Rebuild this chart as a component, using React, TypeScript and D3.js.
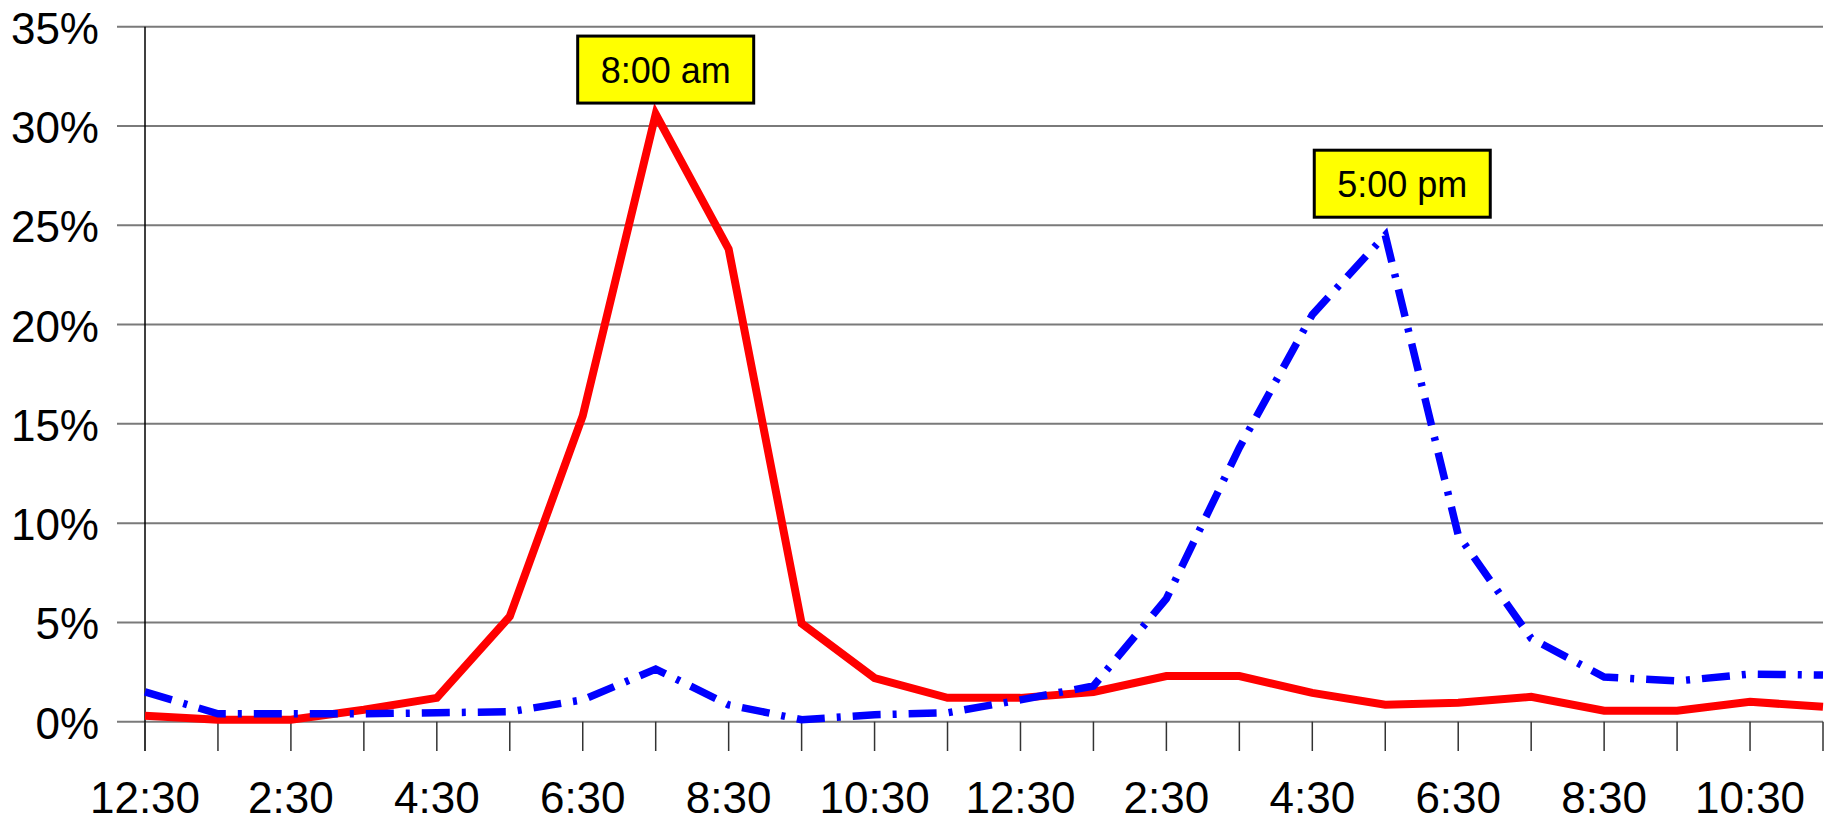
import React from "react";
import * as d3 from "d3";

// ---- Data ----
const categories: string[] = [
  "12:30", "1:30", "2:30", "3:30", "4:30", "5:30", "6:30", "7:30", "8:30", "9:30", "10:30", "11:30",
  "12:30", "1:30", "2:30", "3:30", "4:30", "5:30", "6:30", "7:30", "8:30", "9:30", "10:30", "11:30",
];

const morningSeries: number[] = [
  0.3, 0.1, 0.1, 0.6, 1.2, 5.3, 15.4, 30.6, 23.8, 4.95, 2.2, 1.2,
  1.2, 1.5, 2.3, 2.3, 1.45, 0.85, 0.95, 1.25, 0.55, 0.55, 1.0, 0.75,
];

const eveningSeries: number[] = [
  1.5, 0.4, 0.4, 0.4, 0.45, 0.5, 1.1, 2.65, 0.85, 0.1, 0.35, 0.45,
  1.1, 1.8, 6.2, 13.8, 20.5, 24.5, 9.4, 4.2, 2.25, 2.05, 2.4, 2.35,
];

const yTicks: number[] = [0, 5, 10, 15, 20, 25, 30, 35];

const annotationIndex: number[] = [7, 17];
const annotationLabel: string[] = ["8:00 am", "5:00 pm"];
const annotationSeries: number[][] = [morningSeries, eveningSeries];

// ---- Layout ----
const W = 1836;
const H = 821;
const X0 = 145;
const X1 = 1823;
const Y0 = 721.7;
const Y1 = 26.7;
const FONT = "'Liberation Sans', Arial, Helvetica, sans-serif";
const annotationOffsets = [
  { dx: 10, dy: -11 },
  { dx: 17, dy: -18 },
];

export default function App() {
  const x = d3
    .scalePoint<number>()
    .domain(categories.map((_, i) => i))
    .range([X0, X1]);
  const y = d3.scaleLinear().domain([0, 35]).range([Y0, Y1]);

  const line = d3
    .line<number>()
    .x((_, i) => x(i) as number)
    .y((d) => y(d));

  return (
    <svg
      width={W}
      height={H}
      style={{ position: "absolute", left: 0, top: 0, background: "#fff" }}
      fontFamily={FONT}
    >
      <rect x={0} y={0} width={W} height={H} fill="#fff" />
      {/* gridlines */}
      {yTicks.map((t) => (
        <line
          key={"g" + t}
          x1={117}
          x2={X1}
          y1={y(t)}
          y2={y(t)}
          stroke="#7a7a7a"
          strokeWidth={2}
        />
      ))}
      {/* y labels */}
      {yTicks.map((t) => (
        <text
          key={"yl" + t}
          x={99}
          y={y(t) + 17}
          textAnchor="end"
          fontSize={44}
          fill="#000"
        >
          {t + "%"}
        </text>
      ))}
      {/* y axis */}
      <line x1={X0} x2={X0} y1={Y1} y2={751} stroke="#000" strokeWidth={1.5} />
      {/* x ticks */}
      {categories.map((_, i) => (
        <line
          key={"xt" + i}
          x1={x(i) as number}
          x2={x(i) as number}
          y1={Y0}
          y2={751}
          stroke="#333"
          strokeWidth={1.5}
        />
      ))}
      {/* x labels */}
      {categories.map((c, i) =>
        i % 2 === 0 ? (
          <text
            key={"xl" + i}
            x={x(i) as number}
            y={813}
            textAnchor="middle"
            fontSize={44}
            fill="#000"
          >
            {c}
          </text>
        ) : null
      )}
      {/* series */}
      <path
        d={line(morningSeries) || ""}
        fill="none"
        stroke="#ff0000"
        strokeWidth={8}
        strokeLinejoin="miter"
      />
      <path
        d={line(eveningSeries) || ""}
        fill="none"
        stroke="#0000ff"
        strokeWidth={7.5}
        strokeLinejoin="miter"
        strokeDasharray="28 12 4 12"
      />
      {/* annotations */}
      {annotationIndex.map((idx, k) => {
        const cx = (x(idx) as number) + annotationOffsets[k].dx;
        const bottom = y(annotationSeries[k][idx]) + annotationOffsets[k].dy;
        const bw = 176;
        const bh = 67;
        return (
          <g key={"a" + k}>
            <rect
              x={cx - bw / 2}
              y={bottom - bh}
              width={bw}
              height={bh}
              fill="#ffff00"
              stroke="#000"
              strokeWidth={3}
            />
            <text
              x={cx}
              y={bottom - bh + 47}
              textAnchor="middle"
              fontSize={36}
              fill="#000"
            >
              {annotationLabel[k]}
            </text>
          </g>
        );
      })}
    </svg>
  );
}
